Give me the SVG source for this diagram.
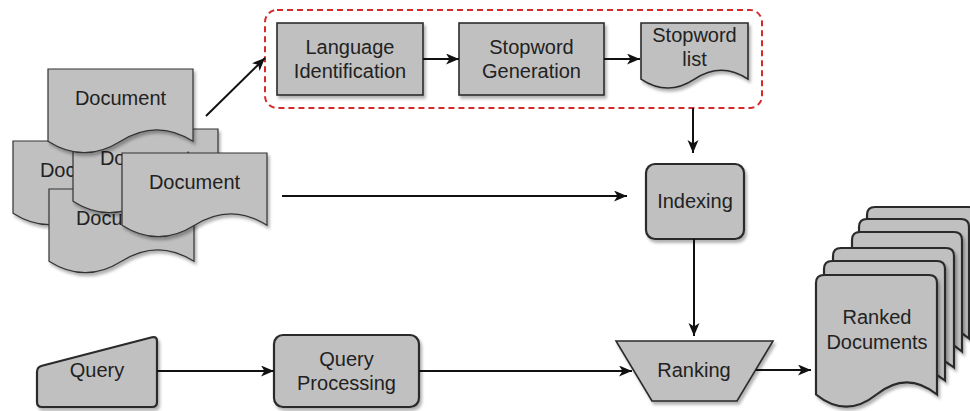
<svg xmlns="http://www.w3.org/2000/svg" xmlns:xlink="http://www.w3.org/1999/xlink" width="970" height="411" viewBox="0 0 970 411">
<style>
.s{fill:#c0c0c0;stroke:#2a2a2a;stroke-width:1.6;filter:url(#sh)}
.doc{fill:#c0c0c0;stroke:#333;stroke-width:1.2;filter:url(#sh)}
.thick{stroke-width:2.2}
.t{font-family:"Liberation Sans",Arial,sans-serif;font-size:20px;fill:#222;text-anchor:middle}
.c{fill:none;stroke:#111;stroke-width:2;marker-end:url(#ar)}
</style>
<defs>
<filter id="sh" x="-20%" y="-20%" width="140%" height="140%">
<feDropShadow dx="2" dy="3" stdDeviation="1.8" flood-color="#000" flood-opacity="0.3"/>
</filter>
<marker id="ar" markerUnits="userSpaceOnUse" markerWidth="14" markerHeight="12" refX="13" refY="5.5" orient="auto">
<path d="M0,0 L13,5.5 L0,11 L3.5,5.5 Z" fill="#111"/>
</marker>
<path id="rd1" d="M0,8 Q0,0 8,0 L113,0 Q121,0 121,8 L121,119.5 Q90.75,95.2 60.5,119.5 Q30.25,143.8 0,119.5 Z"/>
<path id="rd2" d="M0,8 Q0,0 8,0 L102,0 Q110,0 110,8 L110,119.5 Q82.5,95.2 55,119.5 Q27.5,143.8 0,119.5 Z"/>
</defs>

<g id="group-lang">
<rect x="265" y="10" width="497" height="98" rx="12" fill="none" stroke="#d42a2a" stroke-width="2" stroke-dasharray="6 4"/>
</g>

<g id="doc-left">
<path class="doc" d="M13,141 L158,141 L158,213.25 Q121.75,190.3 85.5,213.25 Q49.25,236.2 13,213.25 Z"/>
<text class="t" x="85.5" y="177">Document</text>
</g>
<g id="doc-bottom">
<path class="doc" d="M49,189 L194,189 L194,261.25 Q157.75,238.3 121.5,261.25 Q85.25,284.2 49,261.25 Z"/>
<text class="t" x="121.5" y="225">Document</text>
</g>
<g id="doc-mid">
<path class="doc" d="M73,129 L218,129 L218,201.25 Q181.75,178.3 145.5,201.25 Q109.25,224.2 73,201.25 Z"/>
<text class="t" x="145.5" y="165">Document</text>
</g>
<g id="doc-top">
<path class="doc" d="M48,69 L193,69 L193,141.25 Q156.75,118.3 120.5,141.25 Q84.25,164.2 48,141.25 Z"/>
<text class="t" x="120.5" y="105">Document</text>
</g>
<g id="doc-front">
<path class="doc" d="M122,153 L267,153 L267,225.25 Q230.75,202.3 194.5,225.25 Q158.25,248.2 122,225.25 Z"/>
<text class="t" x="194.5" y="189">Document</text>
</g>

<g id="lang-id">
<rect class="s" x="277" y="23" width="146" height="72"/>
<text class="t" x="350" y="54">Language</text>
<text class="t" x="350" y="78">Identification</text>
</g>
<g id="stopword-gen">
<rect class="s" x="459" y="23" width="145" height="72"/>
<text class="t" x="531.5" y="54">Stopword</text>
<text class="t" x="531.5" y="78">Generation</text>
</g>
<g id="stopword-list">
<path class="s" d="M641,23 L748,23 L748,79.1 Q721.25,61.3 694.5,79.1 Q667.75,96.9 641,79.1 Z"/>
<text class="t" x="694.5" y="42">Stopword</text>
<text class="t" x="694.5" y="66">list</text>
</g>

<g id="indexing">
<rect class="s thick" x="646" y="164" width="98" height="75" rx="9"/>
<text class="t" x="695" y="208">Indexing</text>
</g>

<g id="query">
<path class="s thick" d="M37,372 Q37,367 42,365.7 L152,337.3 Q157,336 157,341 L157,402 Q157,407 152,407 L42,407 Q37,407 37,402 Z"/>
<text class="t" x="97" y="377">Query</text>
</g>
<g id="query-processing">
<rect class="s thick" x="274" y="335" width="145" height="72" rx="9"/>
<text class="t" x="346.5" y="366">Query</text>
<text class="t" x="346.5" y="390">Processing</text>
</g>

<g id="ranking">
<polygon class="s" points="616,341 773,341 737,401 652,401"/>
<text class="t" x="694" y="377">Ranking</text>
</g>

<g id="ranked-documents">
<use xlink:href="#rd2" href="#rd2" class="s thick" transform="translate(867,207)"/>
<use xlink:href="#rd2" href="#rd2" class="s thick" transform="translate(859,219)"/>
<use xlink:href="#rd2" href="#rd2" class="s thick" transform="translate(852,232)"/>
<use xlink:href="#rd1" href="#rd1" class="s thick" transform="translate(833,248)"/>
<use xlink:href="#rd1" href="#rd1" class="s thick" transform="translate(824,261)"/>
<use xlink:href="#rd1" href="#rd1" class="s thick" transform="translate(816,275)"/>
<text class="t" x="877" y="324">Ranked</text>
<text class="t" x="877" y="349">Documents</text>
</g>

<g id="connectors">
<path class="c" d="M206,116 L265,58"/>
<path class="c" d="M423,59 L459,59"/>
<path class="c" d="M604,59 L640,59"/>
<path class="c" d="M693,108 L693,153"/>
<path class="c" d="M282,196 L627,196"/>
<path class="c" d="M694,239 L694,336"/>
<path class="c" d="M157,371 L274,371"/>
<path class="c" d="M419,371 L632,371"/>
<path class="c" d="M756,370 L811,370"/>
</g>
</svg>
